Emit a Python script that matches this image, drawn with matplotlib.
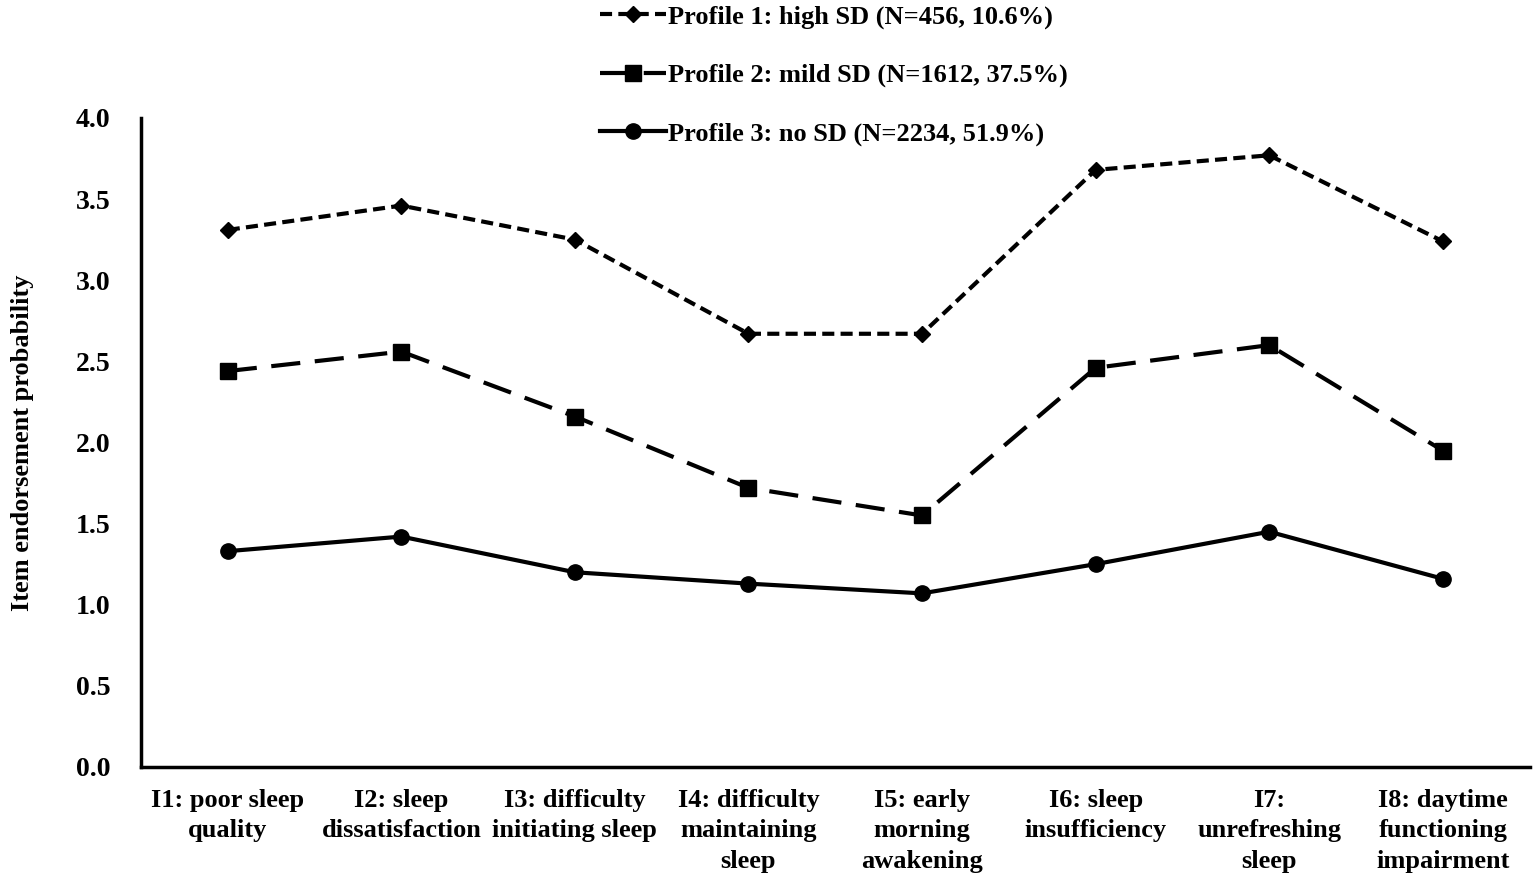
import matplotlib.pyplot as plt

items = [
    "I1: poor sleep\nquality",
    "I2: sleep\ndissatisfaction",
    "I3: difficulty\ninitiating sleep",
    "I4: difficulty\nmaintaining\nsleep",
    "I5: early\nmorning\nawakening",
    "I6: sleep\ninsufficiency",
    "I7:\nunrefreshing\nsleep",
    "I8: daytime\nfunctioning\nimpairment",
]
profile1 = [3.31, 3.46, 3.25, 2.67, 2.67, 3.68, 3.77, 3.24]
profile2 = [2.44, 2.56, 2.16, 1.72, 1.55, 2.46, 2.60, 1.95]
profile3 = [1.33, 1.42, 1.20, 1.13, 1.07, 1.25, 1.45, 1.16]
labels = [
    "Profile 1: high SD (N=456, 10.6%)",
    "Profile 2: mild SD (N=1612, 37.5%)",
    "Profile 3: no SD (N=2234, 51.9%)",
]
yticks = [0.0, 0.5, 1.0, 1.5, 2.0, 2.5, 3.0, 3.5, 4.0]

plt.rcParams["font.family"] = ["Liberation Serif", "DejaVu Serif"]
plt.rcParams["font.weight"] = "bold"

fig = plt.figure(figsize=(15.36, 8.83), dpi=100)
ax = fig.add_axes([0.0918, 0.1314, 0.904, 0.735])

x = list(range(len(items)))
ax.plot(x, profile1, color="black", lw=3, ls=(0, (2.9, 1.5)),
        marker="D", ms=8, label=labels[0])
ax.plot(x, profile2, color="black", lw=3, ls=(0, (7, 3.5)),
        marker="s", ms=12, label=labels[1])
ax.plot(x, profile3, color="black", lw=3, ls="-",
        marker="o", ms=11, label=labels[2])

ax.set_xlim(-0.5, len(items) - 0.5)
ax.set_ylim(0, 4.0)
ax.set_yticks(yticks)
ax.set_yticklabels([f"{v:.1f}" for v in yticks], fontsize=20, fontweight="bold")
ax.set_xticks(x)
ax.set_xticklabels(items, fontsize=19, fontweight="bold", linespacing=1.4)
ax.tick_params(axis="x", length=0, pad=16)
ax.tick_params(axis="y", length=0, pad=22)

for side in ("top", "right"):
    ax.spines[side].set_visible(False)
for side in ("left", "bottom"):
    ax.spines[side].set_linewidth(2.5)

ax.set_ylabel("Item endorsement probability", fontsize=19, fontweight="bold",
              labelpad=30)

leg = fig.legend(loc="upper left", bbox_to_anchor=(0.3835, 1.006), frameon=False,
                 fontsize=19, labelspacing=1.3, handlelength=2.5,
                 handletextpad=0.1, borderaxespad=0)

fig.savefig("out.png", dpi=100)
